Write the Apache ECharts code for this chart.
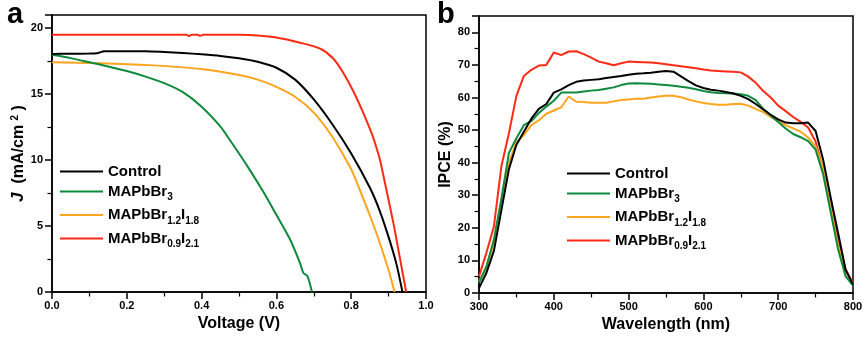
<!DOCTYPE html>
<html>
<head>
<meta charset="utf-8">
<script src="https://cdn.jsdelivr.net/npm/echarts@6/dist/echarts.min.js"></script>
<style>
  html, body { margin: 0; padding: 0; background: #fff; }
  #chart { width: 868px; height: 341px; }
</style>
</head>
<body>
<div id="chart"></div>
<script>
// ---- J–V curves: [voltage (V), current density (mA/cm2)] ----
const jvControl = [[0,18.05],[0.05,18.06],[0.1,18.08],[0.12,18.1],[0.14,18.25],[0.2,18.26],[0.25,18.26],[0.3,18.2],[0.35,18.12],[0.4,18.02],[0.45,17.9],[0.5,17.72],[0.55,17.45],[0.6,17.0],[0.65,16.1],[0.7,14.6],[0.75,12.7],[0.8,10.5],[0.85,7.9],[0.877,6.1],[0.904,3.8],[0.922,2.0],[0.937,0]];
const jvBr3 = [[0,17.98],[0.05,17.73],[0.1,17.42],[0.15,17.1],[0.2,16.75],[0.25,16.33],[0.3,15.83],[0.35,15.15],[0.4,14.05],[0.45,12.55],[0.476,11.5],[0.521,9.6],[0.565,7.6],[0.6,5.85],[0.637,3.96],[0.663,2.2],[0.672,1.45],[0.683,1.2],[0.695,0]];
const jvBr12I18 = [[0,17.42],[0.13,17.35],[0.26,17.2],[0.4,16.9],[0.5,16.45],[0.55,16.1],[0.6,15.55],[0.65,14.8],[0.7,13.6],[0.75,11.75],[0.8,9.3],[0.825,7.6],[0.85,5.8],[0.875,3.85],[0.9,1.65],[0.916,0]];
const jvBr09I21 = [[0,19.5],[0.1,19.5],[0.2,19.5],[0.3,19.5],[0.36,19.5],[0.366,19.4],[0.374,19.5],[0.39,19.5],[0.396,19.42],[0.404,19.5],[0.5,19.5],[0.55,19.45],[0.6,19.3],[0.663,18.9],[0.717,18.45],[0.752,17.7],[0.779,16.6],[0.806,15.2],[0.832,13.6],[0.855,12.0],[0.868,10.9],[0.877,10.0],[0.89,8.3],[0.913,5.2],[0.931,2.45],[0.947,0]];

// ---- IPCE spectra (%) sampled every 10 nm ----
const wavelength = [300,310,320,330,340,350,360,370,380,390,400,410,420,430,440,450,460,470,480,490,500,510,520,530,540,550,560,570,580,590,600,610,620,630,640,650,660,670,680,690,700,710,720,730,740,750,760,770,780,790,800];
const ipceControl = [1.5,6.2,13,25.5,38,45.5,49.5,53.5,56.5,58,61.5,62.5,63.8,64.8,65.2,65.4,65.6,66.0,66.3,66.6,67.0,67.3,67.4,67.6,67.9,68.1,67.9,66.5,65.0,63.7,62.9,62.4,62.1,61.7,61.2,60.5,59.5,58,56.3,54.7,53.3,52.3,52.1,52.1,52.3,49.7,41,29.5,18.5,7.2,2.6];
const ipceBr3 = [3.1,8.2,16.5,29,43,47.5,51.5,52.8,55.2,57.2,59,61.5,61.5,61.5,61.8,62.1,62.3,62.7,63.1,63.8,64.3,64.4,64.3,64.2,64.0,63.8,63.6,63.3,63.0,62.5,62.0,61.6,61.4,61.3,61.2,61.0,60.5,59.2,56.5,54.5,52.5,50.5,48.8,47.8,46.6,44,36.5,25,13.5,5.2,2.3];
const ipceBr12I18 = [3.6,7.7,15.5,28.5,40,46.3,48.5,51.5,53,55,56,57,60.3,58.7,58.6,58.4,58.4,58.4,58.8,59.2,59.4,59.6,59.6,60.0,60.3,60.5,60.5,60.1,59.4,58.8,58.3,58.0,57.8,57.8,58.0,58.1,57.5,56.5,55.5,54.0,52.8,51.5,50.5,49.5,47.7,45,38.5,26.5,14.5,6.5,3];
const ipceBr09I21 = [5.1,12.4,20.5,39,49,60.5,66.6,68.5,69.8,70.0,73.8,73.0,74.1,74.2,73.3,72.2,71.0,70.5,69.9,70.5,71.0,70.9,70.8,70.7,70.5,70.2,69.9,69.6,69.3,69.0,68.6,68.3,68.1,68.0,67.9,67.7,66.4,64.5,62.0,60.0,57.5,55.8,54.0,52.5,50.8,46.5,38,28,17,7.2,3];

const seriesNames = ['Control', 'MAPbBr3', 'MAPbBr1.2I1.8', 'MAPbBr0.9I2.1'];
const seriesColors = ['#000000', '#0d8a3c', '#ffa41c', '#ff2a14'];

const FONT = '"Liberation Sans", Arial, Helvetica, sans-serif';

// legend labels with chemical subscripts
const legendRich = {
  'Control': '{m|Control}',
  'MAPbBr3': '{m|MAPbBr}{s|3}',
  'MAPbBr1.2I1.8': '{m|MAPbBr}{s|1.2}{m|I}{s|1.8}',
  'MAPbBr0.9I2.1': '{m|MAPbBr}{s|0.9}{m|I}{s|2.1}'
};
const richStyles = {
  m: { fontFamily: FONT, fontWeight: 'bold', fontSize: 15, color: '#000', lineHeight: 22 },
  s: { fontFamily: FONT, fontWeight: 'bold', fontSize: 10, color: '#000', lineHeight: 10, verticalAlign: 'bottom' }
};

function makeLegend(left, top) {
  return {
    orient: 'vertical', left: left, top: top, padding: 0,
    itemWidth: 43, itemHeight: 2, itemGap: 5, icon: 'rect',
    selectedMode: false,
    data: seriesNames,
    formatter: name => legendRich[name],
    textStyle: { fontFamily: FONT, fontWeight: 'bold', fontSize: 15, color: '#000', rich: richStyles }
  };
}

function tickLabel(extra) {
  return Object.assign({ fontFamily: FONT, fontWeight: 'bold', fontSize: 11, color: '#000' }, extra);
}
function axisNameStyle() {
  return { fontFamily: FONT, fontWeight: 'bold', fontSize: 16, color: '#000' };
}
function blackLine() {
  return { show: true, onZero: false, lineStyle: { color: '#000', width: 1.5 } };
}
function majorTick() {
  return { show: true, inside: false, length: 7, lineStyle: { color: '#000', width: 1.5 } };
}
function minorTick() {
  return { show: true, splitNumber: 2, length: 4.5, lineStyle: { color: '#000', width: 1.2 } };
}

const jvData = [jvControl, jvBr3, jvBr12I18, jvBr09I21];
const ipceData = [ipceControl, ipceBr3, ipceBr12I18, ipceBr09I21];
const drawOrder = [3, 2, 1, 0];

const series = [];
drawOrder.forEach(i => {
  series.push({
    name: seriesNames[i], type: 'line', xAxisIndex: 0, yAxisIndex: 0,
    data: jvData[i], showSymbol: false, symbol: 'none', smooth: 0.25,
    lineStyle: { color: seriesColors[i], width: 2 }, itemStyle: { color: seriesColors[i] },
    animation: false, silent: true
  });
});
drawOrder.forEach(i => {
  series.push({
    name: seriesNames[i], type: 'line', xAxisIndex: 1, yAxisIndex: 1,
    data: wavelength.map((w, k) => [w, ipceData[i][k]]), showSymbol: false, symbol: 'none',
    lineStyle: { color: seriesColors[i], width: 2 }, itemStyle: { color: seriesColors[i] },
    animation: false, silent: true
  });
});

const option = {
  backgroundColor: '#fff',
  animation: false,
  textStyle: { fontFamily: FONT },
  grid: [
    { left: 52, right: 442, top: 15, bottom: 49, show: true, borderColor: '#000', borderWidth: 1.5, backgroundColor: 'transparent', containLabel: false, outerBoundsMode: 'none' },
    { left: 479, right: 15, top: 16, bottom: 48, show: true, borderColor: '#000', borderWidth: 1.5, backgroundColor: 'transparent', containLabel: false, outerBoundsMode: 'none' }
  ],
  xAxis: [
    {
      type: 'value', gridIndex: 0, min: 0, max: 1, interval: 0.2, position: 'bottom',
      name: 'Voltage (V)', nameLocation: 'middle', nameGap: 22, nameTextStyle: axisNameStyle(),
      axisLine: blackLine(), axisTick: majorTick(), minorTick: minorTick(), splitLine: { show: false },
      axisLabel: tickLabel({ margin: 8, formatter: v => v.toFixed(1) })
    },
    {
      type: 'value', gridIndex: 1, min: 300, max: 800, interval: 100, position: 'bottom',
      name: 'Wavelength (nm)', nameLocation: 'middle', nameGap: 22, nameTextStyle: axisNameStyle(),
      axisLine: blackLine(), axisTick: majorTick(), minorTick: minorTick(), splitLine: { show: false },
      axisLabel: tickLabel({ margin: 8 })
    }
  ],
  yAxis: [
    {
      type: 'value', gridIndex: 0, min: 0, max: 21, interval: 5, position: 'left',
      name: '{i|J}  {n|(mA/cm }{sup|2}{n| )}', nameLocation: 'middle', nameGap: 25,
      nameTextStyle: Object.assign(axisNameStyle(), {
        rich: {
          i: { fontFamily: FONT, fontWeight: 'bold', fontStyle: 'italic', fontSize: 17, color: '#000' },
          n: { fontFamily: FONT, fontWeight: 'bold', fontSize: 16, color: '#000' },
          sup: { fontFamily: FONT, fontWeight: 'bold', fontSize: 10, color: '#000', verticalAlign: 'top', lineHeight: 10 }
        }
      }),
      axisLine: blackLine(), axisTick: majorTick(), minorTick: minorTick(), splitLine: { show: false },
      axisLabel: tickLabel({ margin: 9, showMaxLabel: false, formatter: v => (v % 5 === 0 ? String(v) : '') })
    },
    {
      type: 'value', gridIndex: 1, min: 0, max: 85, interval: 10, position: 'left',
      name: 'IPCE (%)', nameLocation: 'middle', nameGap: 19, nameTextStyle: axisNameStyle(),
      axisLine: blackLine(), axisTick: majorTick(), minorTick: minorTick(), splitLine: { show: false },
      axisLabel: tickLabel({ margin: 9, showMaxLabel: false, formatter: v => (v % 10 === 0 ? String(v) : '') })
    }
  ],
  legend: [makeLegend(60, 164), makeLegend(567, 166)],
  graphic: [
    { type: 'text', left: 7, top: 0, style: { text: 'a', font: 'bold 29px ' + FONT, fill: '#000' } },
    { type: 'text', left: 437, top: 0, style: { text: 'b', font: 'bold 29px ' + FONT, fill: '#000' } }
  ],
  series: series
};

const chart = echarts.init(document.getElementById('chart'), null, { renderer: 'canvas' });
chart.setOption(option);
</script>
</body>
</html>
